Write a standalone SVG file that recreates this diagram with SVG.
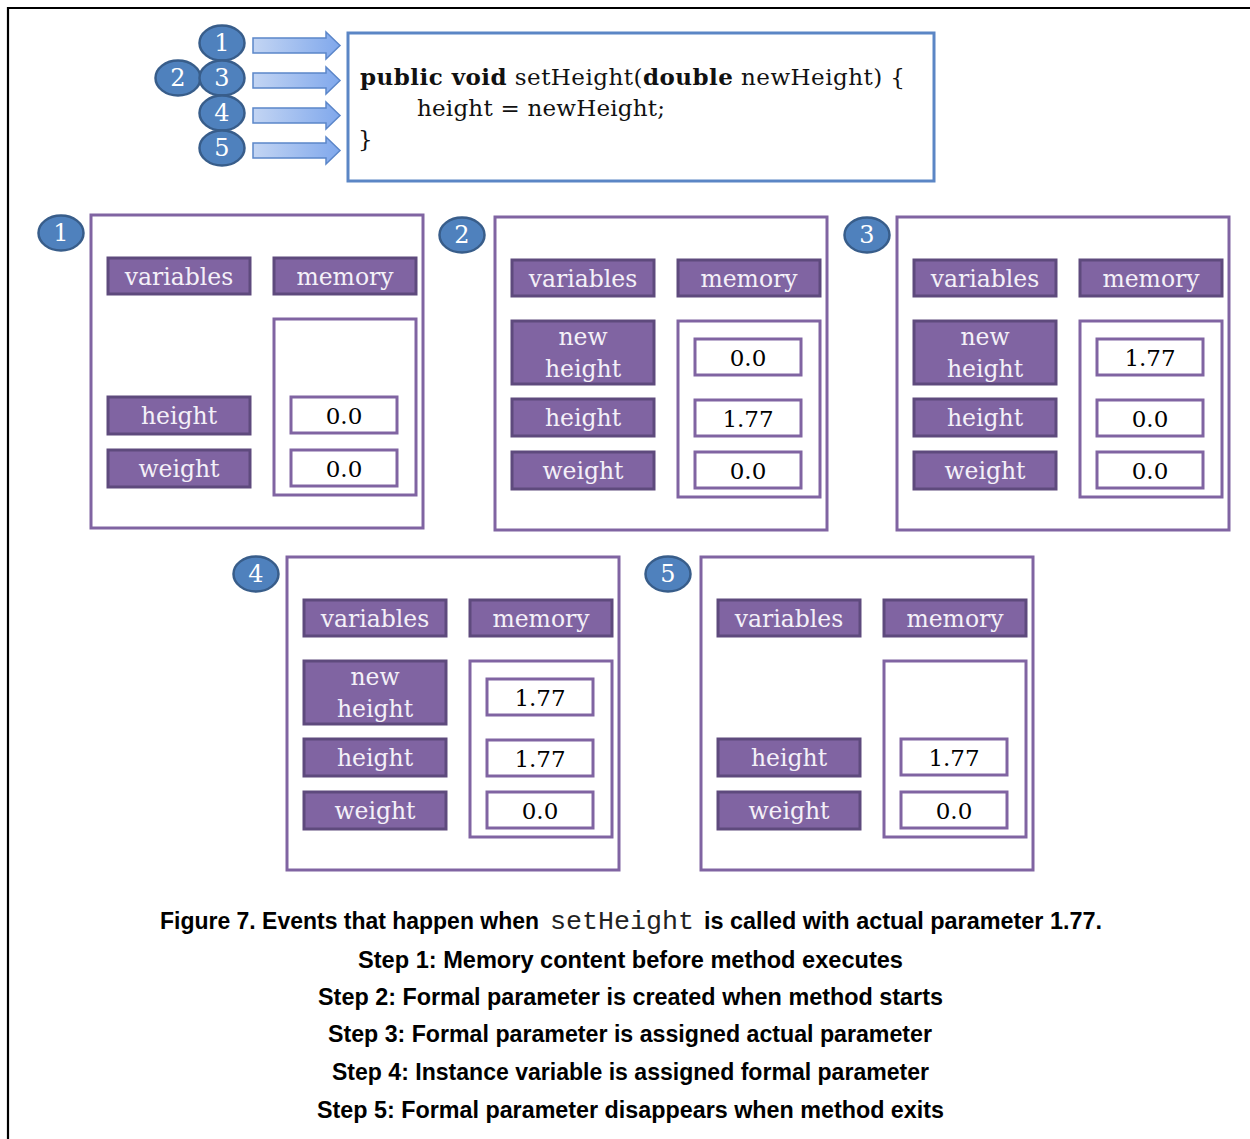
<svg xmlns="http://www.w3.org/2000/svg" width="1250" height="1139" viewBox="0 0 1250 1139">
<style>
.frame{stroke:#000;stroke-width:2.2;fill:none}
.badge{fill:#4F81BD;stroke:#385D8A;stroke-width:2.5}
.bnum{font-family:"DejaVu Serif","Liberation Serif",serif;font-size:24px;fill:#fff;text-anchor:middle}
.arrow{fill:url(#ag);stroke:#5B86C9;stroke-width:1.5}
.code{fill:#fff;stroke:#5B86C5;stroke-width:3}
.ct{font-family:"DejaVu Serif","Liberation Serif",serif;font-size:23px;fill:#111}
.b{font-weight:bold}
.panel{fill:#fff;stroke:#8064A2;stroke-width:3}
.hdr{fill:#8064A2;stroke:#5E4A7D;stroke-width:3}
.lbl{font-family:"DejaVu Serif","Liberation Serif",serif;font-size:23.5px;fill:#F4F0F8;text-anchor:middle}
.cont{fill:#fff;stroke:#8064A2;stroke-width:3}
.val{fill:#fff;stroke:#8064A2;stroke-width:3}
.vt{font-family:"DejaVu Serif","Liberation Serif",serif;font-size:23px;fill:#000;text-anchor:middle}
.cap{font-family:"Liberation Sans",Arial,sans-serif;font-weight:bold;font-size:23px;fill:#000}
.capm{font-family:"Liberation Mono","Courier New",monospace;font-size:25px;fill:#222}
</style>
<defs>
<linearGradient id="ag" x1="0" y1="0" x2="1" y2="0">
<stop offset="0" stop-color="#C3D5F3"/>
<stop offset="1" stop-color="#80A8EC"/>
</linearGradient>
</defs>
<rect width="1250" height="1139" fill="#fff"/>
<path class="frame" d="M8,1139 V8 H1250"/>

<g id="code-box">
<rect class="code" x="348" y="33" width="586" height="148"/>
<text class="ct" x="360" y="85" textLength="545" lengthAdjust="spacing"><tspan class="b">public void</tspan> setHeight(<tspan class="b">double</tspan> newHeight) {</text>
<text class="ct" x="417" y="116" textLength="248" lengthAdjust="spacing">height = newHeight;</text>
<text class="ct" x="358" y="147">}</text>
</g>

<g id="step-badges">
<g id="badge-top-2"><ellipse class="badge" cx="178" cy="78" rx="22.5" ry="17.5"/><text class="bnum" x="178" y="86">2</text></g>
<g id="badge-top-1"><ellipse class="badge" cx="222" cy="43" rx="22.5" ry="17.5"/><text class="bnum" x="222" y="51">1</text></g>
<g id="badge-top-3"><ellipse class="badge" cx="222" cy="78" rx="22.5" ry="17.5"/><text class="bnum" x="222" y="86">3</text></g>
<g id="badge-top-4"><ellipse class="badge" cx="222" cy="113" rx="22.5" ry="17.5"/><text class="bnum" x="222" y="121">4</text></g>
<g id="badge-top-5"><ellipse class="badge" cx="222" cy="148" rx="22.5" ry="17.5"/><text class="bnum" x="222" y="156">5</text></g>
</g>

<g id="connectors">
<path class="arrow" d="M253,38 H326 V32 L340,45.5 L326,59 V53 H253 Z"/>
<path class="arrow" d="M253,73 H326 V67 L340,80.5 L326,94 V88 H253 Z"/>
<path class="arrow" d="M253,108 H326 V102 L340,115.5 L326,129 V123 H253 Z"/>
<path class="arrow" d="M253,143 H326 V137 L340,150.5 L326,164 V158 H253 Z"/>
</g>

<!-- Panel 1 -->
<g id="panel-1">
<ellipse class="badge" cx="61" cy="233" rx="22.5" ry="17.5"/><text class="bnum" x="61" y="241">1</text>
<g transform="translate(91,215)">
<rect class="panel" x="0" y="0" width="332" height="313"/>
<rect class="hdr" x="17" y="43" width="142" height="36"/><text class="lbl" x="88" y="70">variables</text>
<rect class="hdr" x="183" y="43" width="142" height="36"/><text class="lbl" x="254" y="70">memory</text>
<rect class="cont" x="183" y="104" width="142" height="176"/>
<rect class="hdr" x="17" y="182" width="142" height="37"/><text class="lbl" x="88" y="209">height</text>
<rect class="hdr" x="17" y="235" width="142" height="37"/><text class="lbl" x="88" y="262">weight</text>
<rect class="val" x="200" y="182" width="106" height="36"/><text class="vt" x="253" y="209">0.0</text>
<rect class="val" x="200" y="235" width="106" height="36"/><text class="vt" x="253" y="262">0.0</text>
</g>
</g>

<!-- Panel 2 -->
<g id="panel-2">
<ellipse class="badge" cx="462" cy="235" rx="22.5" ry="17.5"/><text class="bnum" x="462" y="243">2</text>
<g transform="translate(495,217)">
<rect class="panel" x="0" y="0" width="332" height="313"/>
<rect class="hdr" x="17" y="43" width="142" height="36"/><text class="lbl" x="88" y="70">variables</text>
<rect class="hdr" x="183" y="43" width="142" height="36"/><text class="lbl" x="254" y="70">memory</text>
<rect class="cont" x="183" y="104" width="142" height="176"/>
<rect class="hdr" x="17" y="104" width="142" height="63"/><text class="lbl" x="88" y="128">new</text><text class="lbl" x="88" y="160">height</text>
<rect class="hdr" x="17" y="182" width="142" height="37"/><text class="lbl" x="88" y="209">height</text>
<rect class="hdr" x="17" y="235" width="142" height="37"/><text class="lbl" x="88" y="262">weight</text>
<rect class="val" x="200" y="122" width="106" height="36"/><text class="vt" x="253" y="149">0.0</text>
<rect class="val" x="200" y="183" width="106" height="36"/><text class="vt" x="253" y="210">1.77</text>
<rect class="val" x="200" y="235" width="106" height="36"/><text class="vt" x="253" y="262">0.0</text>
</g>
</g>

<!-- Panel 3 -->
<g id="panel-3">
<ellipse class="badge" cx="867" cy="235" rx="22.5" ry="17.5"/><text class="bnum" x="867" y="243">3</text>
<g transform="translate(897,217)">
<rect class="panel" x="0" y="0" width="332" height="313"/>
<rect class="hdr" x="17" y="43" width="142" height="36"/><text class="lbl" x="88" y="70">variables</text>
<rect class="hdr" x="183" y="43" width="142" height="36"/><text class="lbl" x="254" y="70">memory</text>
<rect class="cont" x="183" y="104" width="142" height="176"/>
<rect class="hdr" x="17" y="104" width="142" height="63"/><text class="lbl" x="88" y="128">new</text><text class="lbl" x="88" y="160">height</text>
<rect class="hdr" x="17" y="182" width="142" height="37"/><text class="lbl" x="88" y="209">height</text>
<rect class="hdr" x="17" y="235" width="142" height="37"/><text class="lbl" x="88" y="262">weight</text>
<rect class="val" x="200" y="122" width="106" height="36"/><text class="vt" x="253" y="149">1.77</text>
<rect class="val" x="200" y="183" width="106" height="36"/><text class="vt" x="253" y="210">0.0</text>
<rect class="val" x="200" y="235" width="106" height="36"/><text class="vt" x="253" y="262">0.0</text>
</g>
</g>

<!-- Panel 4 -->
<g id="panel-4">
<ellipse class="badge" cx="256" cy="574" rx="22.5" ry="17.5"/><text class="bnum" x="256" y="582">4</text>
<g transform="translate(287,557)">
<rect class="panel" x="0" y="0" width="332" height="313"/>
<rect class="hdr" x="17" y="43" width="142" height="36"/><text class="lbl" x="88" y="70">variables</text>
<rect class="hdr" x="183" y="43" width="142" height="36"/><text class="lbl" x="254" y="70">memory</text>
<rect class="cont" x="183" y="104" width="142" height="176"/>
<rect class="hdr" x="17" y="104" width="142" height="63"/><text class="lbl" x="88" y="128">new</text><text class="lbl" x="88" y="160">height</text>
<rect class="hdr" x="17" y="182" width="142" height="37"/><text class="lbl" x="88" y="209">height</text>
<rect class="hdr" x="17" y="235" width="142" height="37"/><text class="lbl" x="88" y="262">weight</text>
<rect class="val" x="200" y="122" width="106" height="36"/><text class="vt" x="253" y="149">1.77</text>
<rect class="val" x="200" y="183" width="106" height="36"/><text class="vt" x="253" y="210">1.77</text>
<rect class="val" x="200" y="235" width="106" height="36"/><text class="vt" x="253" y="262">0.0</text>
</g>
</g>

<!-- Panel 5 -->
<g id="panel-5">
<ellipse class="badge" cx="668" cy="574" rx="22.5" ry="17.5"/><text class="bnum" x="668" y="582">5</text>
<g transform="translate(701,557)">
<rect class="panel" x="0" y="0" width="332" height="313"/>
<rect class="hdr" x="17" y="43" width="142" height="36"/><text class="lbl" x="88" y="70">variables</text>
<rect class="hdr" x="183" y="43" width="142" height="36"/><text class="lbl" x="254" y="70">memory</text>
<rect class="cont" x="183" y="104" width="142" height="176"/>
<rect class="hdr" x="17" y="182" width="142" height="37"/><text class="lbl" x="88" y="209">height</text>
<rect class="hdr" x="17" y="235" width="142" height="37"/><text class="lbl" x="88" y="262">weight</text>
<rect class="val" x="200" y="182" width="106" height="36"/><text class="vt" x="253" y="209">1.77</text>
<rect class="val" x="200" y="235" width="106" height="36"/><text class="vt" x="253" y="262">0.0</text>
</g>
</g>

<g id="caption">
<text class="cap" x="160" y="929" textLength="379" lengthAdjust="spacingAndGlyphs">Figure 7. Events that happen when</text>
<text class="capm" x="550" y="929" textLength="144" lengthAdjust="spacingAndGlyphs">setHeight</text>
<text class="cap" x="704" y="929" textLength="398" lengthAdjust="spacingAndGlyphs">is called with actual parameter 1.77.</text>
<text class="cap" x="358" y="968" textLength="545" lengthAdjust="spacingAndGlyphs">Step 1: Memory content before method executes</text>
<text class="cap" x="318" y="1005" textLength="625" lengthAdjust="spacingAndGlyphs">Step 2: Formal parameter is created when method starts</text>
<text class="cap" x="328" y="1042" textLength="604" lengthAdjust="spacingAndGlyphs">Step 3: Formal parameter is assigned actual parameter</text>
<text class="cap" x="332" y="1080" textLength="597" lengthAdjust="spacingAndGlyphs">Step 4: Instance variable is assigned formal parameter</text>
<text class="cap" x="317" y="1118" textLength="627" lengthAdjust="spacingAndGlyphs">Step 5: Formal parameter disappears when method exits</text>
</g>
</svg>
